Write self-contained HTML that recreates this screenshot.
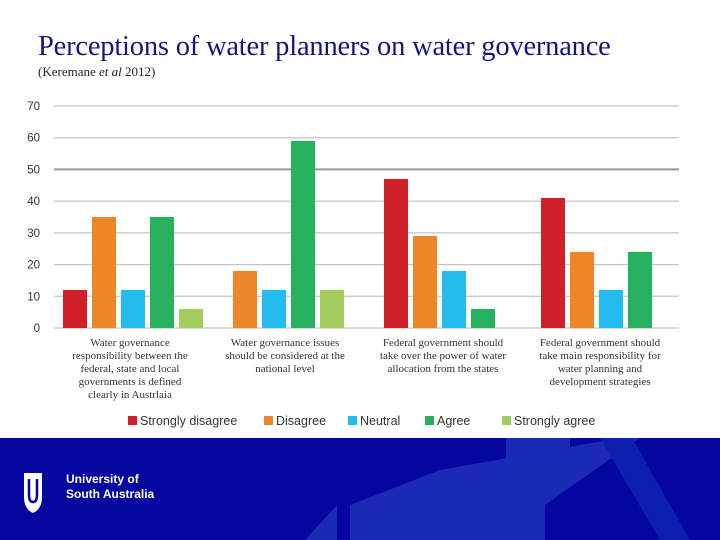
<!DOCTYPE html>
<html><head><meta charset="utf-8"><style>
body{margin:0;width:720px;height:540px;overflow:hidden;background:#fff;font-family:"Liberation Sans",sans-serif;position:relative}
.title{position:absolute;left:38px;top:31px;font:28.5px "Liberation Serif",serif;color:#151580;white-space:nowrap;letter-spacing:-0.2px}
.sub{position:absolute;left:38px;top:64px;font:13px "Liberation Serif",serif;color:#222}
svg{position:absolute;left:0;top:0}
.cat{font:11px "Liberation Serif",serif;fill:#333;text-anchor:middle}
</style></head><body>
<div class="title">Perceptions of water planners on water governance</div>
<div class="sub">(Keremane <i>et al</i> 2012)</div>
<svg id="c" width="720" height="540">
<g>
<rect x="0" y="438" width="720" height="102" fill="#0505a0"/>
<polygon points="305,540 337,505 337,540" fill="#1b2ab4"/>
<polygon points="350,540 350,505 440,470 620,438 640,438 545,505 545,540" fill="#1b2ab4"/>
<polygon points="506,438 570,438 570,462 506,508" fill="#1b2ab4"/>
<polygon points="600,438 632,438 690,540 660,540" fill="#0d1fae"/>
</g>
<g>
<path d="M24,473 h18 v24 q0,12 -9,16 q-9,-4 -9,-16 z" fill="#fff"/>
<path d="M29,479 v16 q0,7 4,7 q4,0 4,-7 v-16" stroke="#0505a0" stroke-width="2.5" fill="none"/>
<text x="66" y="483" font-size="12" font-weight="bold" fill="#fff" font-family="Liberation Sans">University of</text>
<text x="66" y="498" font-size="12" font-weight="bold" fill="#fff" font-family="Liberation Sans">South Australia</text>
</g>
</svg>
<script>
const categories=[["Water governance","responsibility between the","federal, state and local","governments is defined","clearly in Austrlaia"],["Water governance issues","should be considered at the","national level"],["Federal government should","take over the power of water","allocation from the states"],["Federal government should","take main responsibility for","water planning and","development strategies"]];
const seriesNames=["Strongly disagree","Disagree","Neutral","Agree","Strongly agree"];
const seriesColors=["#d02128","#ec8627","#22bdee","#27b05e","#a2cd5c"];
const stronglyDisagree=[12,0,47,41];
const disagree=[35,18,29,24];
const neutral=[12,12,18,12];
const agree=[35,59,6,24];
const stronglyAgree=[6,12,0,0];
const yTicks=[0,10,20,30,40,50,60,70];
const series=[stronglyDisagree,disagree,neutral,agree,stronglyAgree];
const svg=document.getElementById('c');const NS="http://www.w3.org/2000/svg";
function y(v){return 328-v*(222/70);}
const groupLeft=[63,204,384,541];
function gx(i){return groupLeft[i];}
const labelCx=[130,285,443,600];
function mk(t,a){const e=document.createElementNS(NS,t);for(const k in a)e.setAttribute(k,a[k]);svg.appendChild(e);return e;}
yTicks.forEach(t=>{const l=mk('line',{x1:54,x2:679,y1:y(t),y2:y(t),stroke:t==50?'#999':'#c4c4c4','stroke-width':t==50?2:1.3});


const tx=mk('text',{x:40,y:y(t)+4,'text-anchor':'end','font-size':11.5,fill:'#333'});tx.textContent=t;

});
series.forEach((s,j)=>s.forEach((v,i)=>{if(v<=0)return;const r=mk('rect',{x:gx(i)+j*29,y:y(v),width:24,height:328-y(v),fill:seriesColors[j]});

}));
categories.forEach((lines,i)=>lines.forEach((ln,k)=>{const t=mk('text',{x:labelCx[i],y:346+k*13,class:'cat'});t.textContent=ln;

}));
const lx=[128,264,348,425,502];
seriesNames.forEach((n,j)=>{mk('rect',{x:lx[j],y:416,width:9,height:9,fill:seriesColors[j]});const t=mk('text',{x:lx[j]+12,y:425,'font-size':12.5,fill:'#333'});t.textContent=n;

});
</script>
</body></html>
